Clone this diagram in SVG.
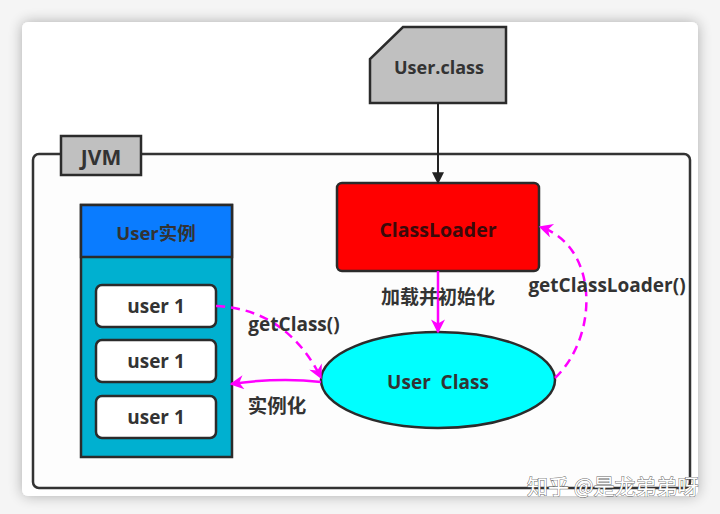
<svg xmlns="http://www.w3.org/2000/svg" width="720" height="514" viewBox="0 0 720 514">
<defs>
<filter id="shadow" x="-10%" y="-10%" width="120%" height="120%">
<feGaussianBlur in="SourceAlpha" stdDeviation="7"/>
<feComponentTransfer><feFuncA type="linear" slope="0.3"/></feComponentTransfer>
<feMerge><feMergeNode/><feMergeNode in="SourceGraphic"/></feMerge>
</filter>
<marker id="arrBlack" viewBox="0 0 10 10" refX="9" refY="5" markerWidth="12" markerHeight="14" markerUnits="userSpaceOnUse" orient="auto">
<path d="M0,0 L10,5 L0,10 Z" fill="#222"/>
</marker>
<marker id="arrMag" viewBox="0 0 10 10" refX="9" refY="5" markerWidth="20" markerHeight="14" markerUnits="userSpaceOnUse" orient="auto">
<path d="M0,0 L10,5 L0,10 L3,5 Z" fill="#ff00ff"/>
</marker>
<style>
.t{font-family:"Open Sans","Noto Sans CJK SC",sans-serif;font-weight:bold;fill:#333;text-anchor:middle;dominant-baseline:central}
.box{stroke:#2b2b2b;stroke-width:2.5}
.mag{fill:none;stroke:#ff00ff;stroke-width:2.5}
.dash{stroke-dasharray:9 6}
.wm{font-family:"Noto Sans CJK SC",sans-serif;font-size:21px;fill:#fff;stroke:#666;stroke-width:0.9;paint-order:stroke}
</style>
</defs>
<rect x="0" y="0" width="720" height="514" fill="#f5f5f5"/>
<rect x="22" y="22" width="676" height="474" rx="6" fill="#ffffff" filter="url(#shadow)"/>

<g id="jvm">
<rect x="33" y="154" width="657" height="334" rx="6" fill="#fdfdfd" stroke="#333" stroke-width="2.5"/>
<rect x="61" y="136" width="80" height="39" fill="#c0c0c0" class="box"/>
<text x="101" y="157" class="t" font-size="21">JVM</text>
</g>

<g id="userclass">
<path d="M403,27 L506,27 L506,103 L370,103 L370,59 Z" fill="#c0c0c0" class="box"/>
<text x="439" y="67" class="t" font-size="18">User.class</text>
</g>

<g id="classloader">
<rect x="337" y="183" width="202" height="88" rx="5" fill="#ff0000" class="box"/>
<text x="438" y="229" class="t" font-size="19.5" style="fill:#3a0a0a">ClassLoader</text>
</g>

<g id="userinstances">
<rect x="81" y="205" width="151" height="252" fill="#00b0d0" class="box"/>
<rect x="81" y="205" width="151" height="52" fill="#0a7cff" class="box"/>
<text x="156" y="232" class="t" font-size="18.5">User实例</text>
</g>
<g id="user1a">
<rect x="96" y="285" width="120" height="42" rx="6" fill="#fff" class="box"/>
<text x="156" y="306" class="t" font-size="19">user 1</text>
</g>
<g id="user1b">
<rect x="96" y="340" width="120" height="42" rx="6" fill="#fff" class="box"/>
<text x="156" y="361" class="t" font-size="19">user 1</text>
</g>
<g id="user1c">
<rect x="96" y="396" width="120" height="42" rx="6" fill="#fff" class="box"/>
<text x="156" y="417" class="t" font-size="19">user 1</text>
</g>

<g id="userClassNode">
<ellipse cx="438" cy="380" rx="117" ry="48" fill="#00ffff" class="box"/>
<text x="438" y="382" class="t" font-size="19" xml:space="preserve">User  Class</text>
</g>

<g id="connectors">
<line x1="438" y1="103" x2="438" y2="183" stroke="#222" stroke-width="2" marker-end="url(#arrBlack)"/>
<line x1="438" y1="271" x2="438" y2="332" class="mag" marker-end="url(#arrMag)"/>
<path d="M216,306 C265,308 300,335 321,378" class="mag dash" marker-end="url(#arrMag)"/>
<path d="M321,382 Q280,377 231,384" class="mag" marker-end="url(#arrMag)"/>
<path d="M555,378 C600,335 598,245 540,227" class="mag dash" marker-end="url(#arrMag)"/>
<text x="438" y="297" class="t" font-size="19">加载并初始化</text>
<text x="294" y="324" class="t" font-size="19">getClass()</text>
<text x="277" y="405" class="t" font-size="19.5">实例化</text>
<text x="607" y="285" class="t" font-size="19">getClassLoader()</text>
</g>

<text x="527" y="494" class="wm">知乎 @是龙弟弟呀</text>
</svg>
